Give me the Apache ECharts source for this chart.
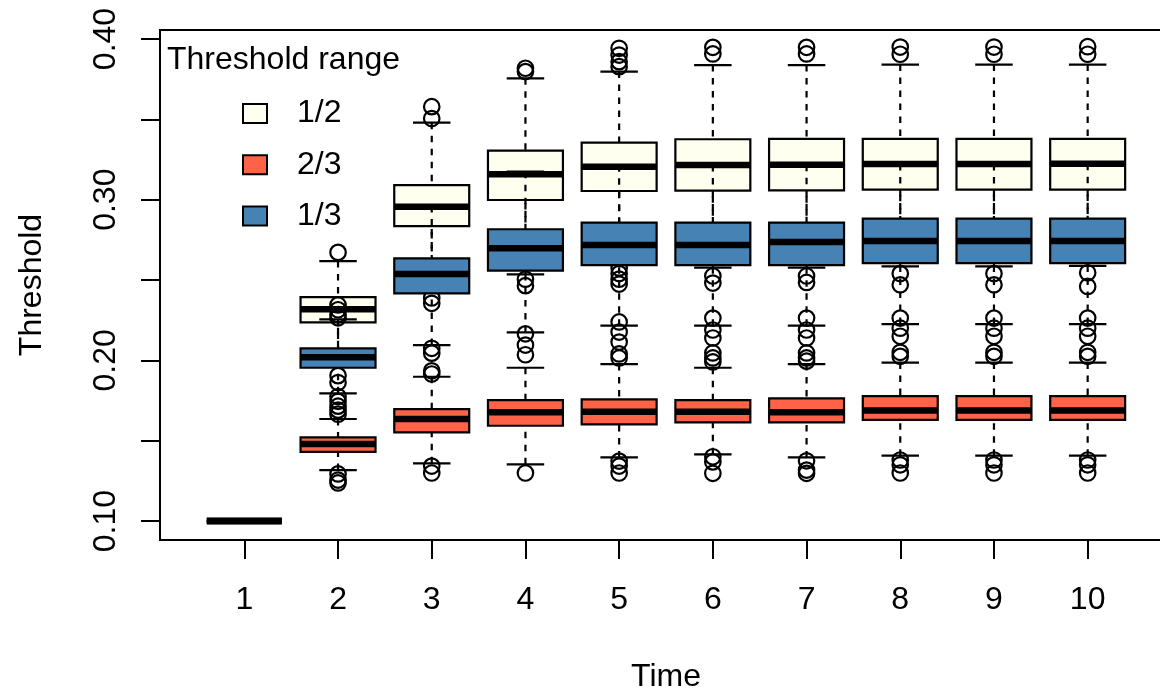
<!DOCTYPE html>
<html>
<head>
<meta charset="utf-8">
<script src="https://cdn.jsdelivr.net/npm/echarts@6/dist/echarts.min.js"></script>
<style>html,body{margin:0;padding:0;background:#fff}#chart{width:1160px;height:689px}</style>
</head>
<body>
<div id="chart"></div>
<script>
// ---- data ----
var times = [1, 2, 3, 4, 5, 6, 7, 8, 9, 10];
var groupNames = ['1/2', '2/3', '1/3'];
var yTicks = [0.10, 0.15, 0.20, 0.25, 0.30, 0.35, 0.40];
var yLabels = [0.10, 0.20, 0.30, 0.40];

// Threshold range 1/2
var halfMin = [0.1, 0.2000, 0.2453, 0.2535, 0.2605, 0.2577, 0.2577, 0.2585, 0.2585, 0.2588];
var halfQ1  = [0.1, 0.2236, 0.2836, 0.2998, 0.3054, 0.3056, 0.3058, 0.3062, 0.3062, 0.3063];
var halfMed = [0.1, 0.2318, 0.2956, 0.3158, 0.3205, 0.3216, 0.3218, 0.3222, 0.3222, 0.3223];
var halfQ3  = [0.1, 0.2393, 0.3091, 0.3305, 0.3355, 0.3376, 0.3378, 0.3379, 0.3379, 0.3379];
var halfMax = [0.1, 0.2618, 0.3479, 0.3755, 0.3797, 0.3838, 0.3838, 0.3841, 0.3841, 0.3841];
var halfOut = [
  [], [0.2672, 0.1905, 0.1862], [0.3579, 0.3505, 0.2388, 0.2355], [0.3818, 0.3797, 0.2505, 0.2465],
  [0.3942, 0.3900, 0.3859, 0.3828, 0.2575, 0.2540, 0.2505, 0.2475], [0.3948, 0.3907, 0.2525, 0.2481],
  [0.3948, 0.3907, 0.2525, 0.2485], [0.3950, 0.3905, 0.2540, 0.2470], [0.3950, 0.3905, 0.2540, 0.2470],
  [0.3952, 0.3905, 0.2545, 0.2460]
];

// Threshold range 2/3
var twoMin = [0.1, 0.1317, 0.1359, 0.1353, 0.1396, 0.1415, 0.1396, 0.1407, 0.1407, 0.1407];
var twoQ1  = [0.1, 0.1431, 0.1552, 0.1593, 0.1602, 0.1614, 0.1614, 0.1629, 0.1629, 0.1629];
var twoMed = [0.1, 0.1479, 0.1635, 0.1677, 0.1680, 0.1680, 0.1677, 0.1688, 0.1688, 0.1688];
var twoQ3  = [0.1, 0.1521, 0.1697, 0.1753, 0.1757, 0.1753, 0.1764, 0.1778, 0.1778, 0.1778];
var twoMax = [0.1, 0.1635, 0.1898, 0.1954, 0.1977, 0.1954, 0.1977, 0.1986, 0.1986, 0.1986];
var twoOut = [
  [], [0.1293, 0.1255, 0.1237], [0.1342, 0.1299], [0.1299], [0.2239, 0.1373, 0.1342, 0.1299],
  [0.2263, 0.1400, 0.1368, 0.1297], [0.2263, 0.1375, 0.1317, 0.1297], [0.2263, 0.1380, 0.1350, 0.1299],
  [0.2263, 0.1380, 0.1350, 0.1299], [0.2263, 0.1380, 0.1350, 0.1299]
];

// Threshold range 1/3
var thirdMin = [0.1, 0.1795, 0.2095, 0.2174, 0.2216, 0.2216, 0.2216, 0.2226, 0.2226, 0.2226];
var thirdQ1  = [0.1, 0.1954, 0.2417, 0.2558, 0.2593, 0.2593, 0.2593, 0.2605, 0.2605, 0.2605];
var thirdMed = [0.1, 0.2019, 0.2537, 0.2697, 0.2718, 0.2718, 0.2736, 0.2743, 0.2743, 0.2743];
var thirdQ3  = [0.1, 0.2075, 0.2635, 0.2816, 0.2857, 0.2857, 0.2857, 0.2882, 0.2882, 0.2882];
var thirdMax = [0.1, 0.2255, 0.2960, 0.3174, 0.3215, 0.3216, 0.3218, 0.3222, 0.3222, 0.3223];
var thirdOut = [
  [], [0.2345, 0.2315, 0.2285, 0.2265, 0.1775, 0.1745, 0.1715, 0.1690, 0.1665],
  [0.2075, 0.2045, 0.1935, 0.1915], [0.2165, 0.2095, 0.2035], [0.2176, 0.2114, 0.2040, 0.2015],
  [0.2189, 0.2139, 0.2046, 0.2015, 0.1990], [0.2189, 0.2139, 0.2046, 0.2015, 0.1995],
  [0.2200, 0.2150, 0.2050, 0.2025], [0.2200, 0.2150, 0.2050, 0.2025], [0.2200, 0.2150, 0.2050, 0.2025]
];

// ---- styling ----
var FONT = '"Liberation Sans", Arial, Helvetica, sans-serif';
var FS = 32;
var colors = { '1/2': '#FFFFF0', '2/3': '#FF6347', '1/3': '#4682B4' };
var BOXWEX = 0.8;
var LW = 2.2;

function boxData(mn, q1, md, q3, mx) {
  return times.map(function (t, i) { return [t, mn[i], q1[i], md[i], q3[i], mx[i]]; });
}
function outData(out) {
  var d = [];
  out.forEach(function (arr, i) { arr.forEach(function (v) { d.push([times[i], v]); }); });
  return d;
}

function makeRender(fill) {
  return function (params, api) {
    var x = api.value(0);
    var lo = api.coord([x, api.value(1)]);
    var q1 = api.coord([x, api.value(2)]);
    var md = api.coord([x, api.value(3)]);
    var q3 = api.coord([x, api.value(4)]);
    var hi = api.coord([x, api.value(5)]);
    var hw = api.size([BOXWEX, 0])[0] / 2;
    var cx = md[0];
    var lineS = { stroke: '#000', lineWidth: LW };
    return {
      type: 'group',
      children: [
        { type: 'rect', shape: { x: cx - hw, y: q3[1], width: 2 * hw, height: q1[1] - q3[1] },
          style: { fill: fill, stroke: null } },
        { type: 'line', shape: { x1: cx - hw, y1: md[1], x2: cx + hw, y2: md[1] },
          style: { stroke: '#000', lineWidth: 6.5, lineCap: 'butt' } },
        { type: 'line', shape: { x1: cx, y1: lo[1], x2: cx, y2: q1[1] },
          style: { stroke: '#000', lineWidth: LW, lineDash: [6.5, 6.5] } },
        { type: 'line', shape: { x1: cx, y1: hi[1], x2: cx, y2: q3[1] },
          style: { stroke: '#000', lineWidth: LW, lineDash: [6.5, 6.5] } },
        { type: 'line', shape: { x1: cx - hw / 2, y1: lo[1], x2: cx + hw / 2, y2: lo[1] }, style: lineS },
        { type: 'line', shape: { x1: cx - hw / 2, y1: hi[1], x2: cx + hw / 2, y2: hi[1] }, style: lineS },
        { type: 'rect', shape: { x: cx - hw, y: q3[1], width: 2 * hw, height: q1[1] - q3[1] },
          style: { fill: null, stroke: '#000', lineWidth: LW } }
      ]
    };
  };
}

var groups = [
  { name: '1/2', box: boxData(halfMin, halfQ1, halfMed, halfQ3, halfMax), out: outData(halfOut) },
  { name: '2/3', box: boxData(twoMin, twoQ1, twoMed, twoQ3, twoMax), out: outData(twoOut) },
  { name: '1/3', box: boxData(thirdMin, thirdQ1, thirdMed, thirdQ3, thirdMax), out: outData(thirdOut) }
];

var series = [];
groups.forEach(function (g, k) {
  series.push({
    name: g.name, type: 'custom', renderItem: makeRender(colors[g.name]),
    data: g.box, encode: { x: 0, y: [1, 2, 3, 4, 5] }, z: 2 + k * 2, silent: true,
    itemStyle: { color: colors[g.name] }
  });
  series.push({
    name: g.name + ' outliers', type: 'scatter', data: g.out, z: 3 + k * 2, silent: true,
    symbol: 'circle', symbolSize: 15.5,
    itemStyle: { color: 'rgba(0,0,0,0)', borderColor: '#000', borderWidth: LW, opacity: 1 }
  });
});

var chart = echarts.init(document.getElementById('chart'), null, { renderer: 'canvas' });
chart.setOption({
  animation: false,
  backgroundColor: '#fff',
  title: {
    text: 'Threshold range', left: 167, top: 44, padding: 0,
    textStyle: { fontSize: FS, fontWeight: 'normal', color: '#000', fontFamily: FONT }
  },
  legend: {
    orient: 'vertical', left: 242, top: 97.5, padding: 0,
    itemWidth: 24, itemHeight: 19, itemGap: 19.3, selectedMode: false,
    data: groupNames.map(function (n) {
      return { name: n, icon: 'rect', itemStyle: { color: colors[n], borderColor: '#000', borderWidth: 2 } };
    }),
    textStyle: { fontSize: FS, lineHeight: 19, color: '#000', fontFamily: FONT, padding: [0, 0, 0, 25] }
  },
  grid: {
    left: 160, top: 30, width: 1012, height: 510, show: true, outerBoundsMode: 'none', containLabel: false,
    borderColor: '#000', borderWidth: 2, backgroundColor: 'rgba(0,0,0,0)'
  },
  xAxis: {
    type: 'value', min: 0.1, max: 10.9,
    name: 'Time', nameLocation: 'middle', nameGap: 121,
    nameTextStyle: { fontSize: FS, color: '#000', fontFamily: FONT },
    axisLine: { show: false },
    splitLine: { show: false },
    axisTick: { show: true, length: 19, customValues: times, lineStyle: { color: '#000', width: 2 } },
    axisLabel: { customValues: times, fontSize: FS, color: '#000', fontFamily: FONT, margin: 44 }
  },
  yAxis: {
    type: 'value', min: 0.0882, max: 0.4056,
    name: 'Threshold', nameLocation: 'middle', nameGap: 112, nameRotate: 90,
    nameTextStyle: { fontSize: FS, color: '#000', fontFamily: FONT },
    axisLine: { show: false },
    splitLine: { show: false },
    axisTick: { show: true, length: 19, customValues: yTicks, lineStyle: { color: '#000', width: 2 } },
    axisLabel: {
      customValues: yLabels, rotate: 90, fontSize: FS, color: '#000', fontFamily: FONT, margin: 38,
      formatter: function (v) { return Number(v).toFixed(2); }
    }
  },
  series: series
});
</script>
</body>
</html>
